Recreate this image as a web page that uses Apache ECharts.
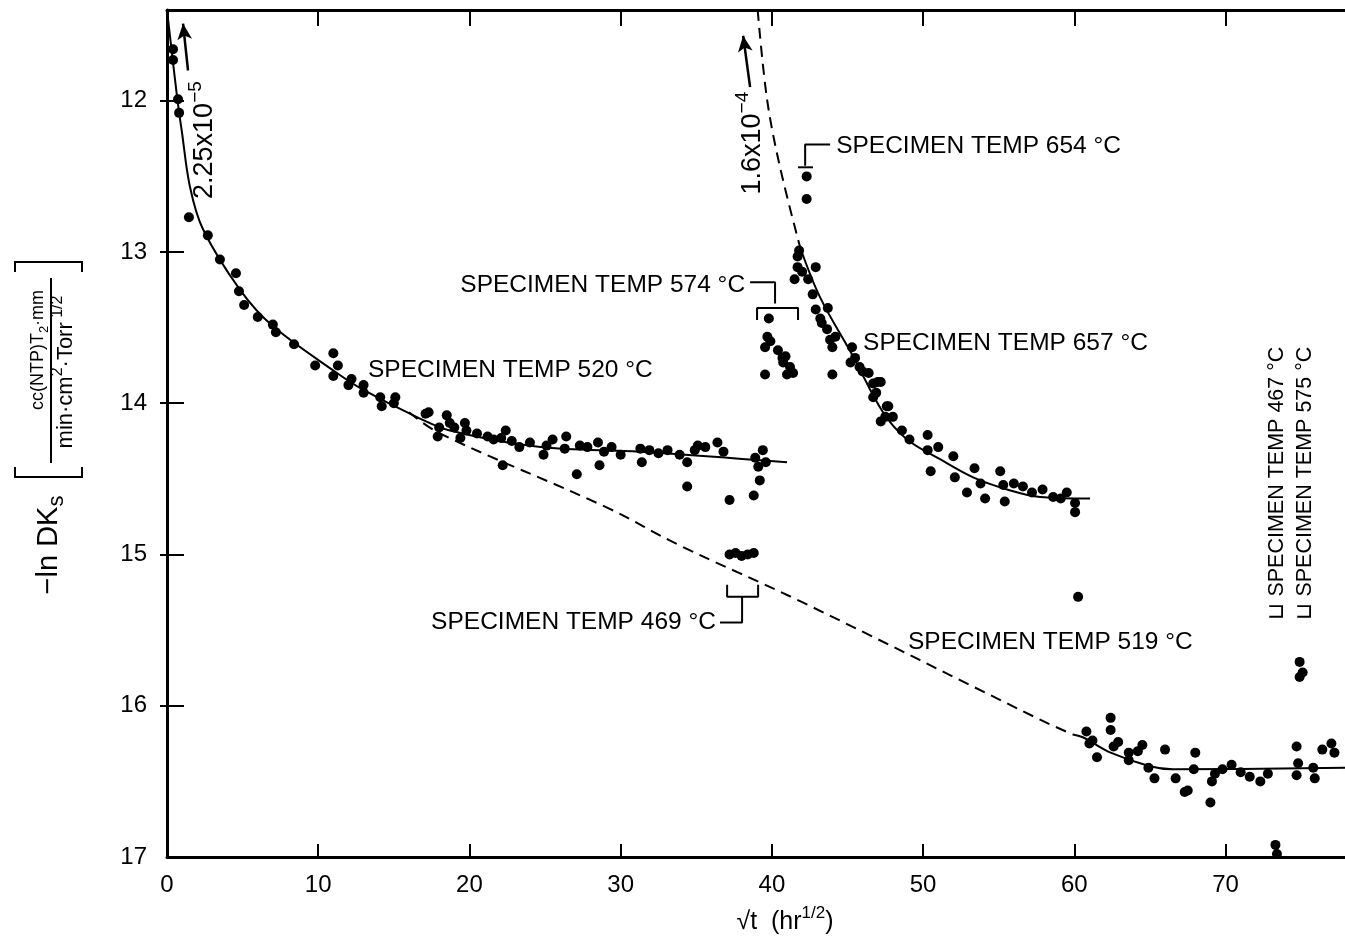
<!DOCTYPE html>
<html>
<head>
<meta charset="utf-8">
<script src="https://cdn.jsdelivr.net/npm/echarts@6/dist/echarts.min.js"></script>
<style>
  html, body { margin: 0; padding: 0; background: #fff; }
  #chart { width: 1345px; height: 947px; }
</style>
</head>
<body>
<div id="chart"></div>
<script>
// tick labels
const xTickValues = [0, 10, 20, 30, 40, 50, 60, 70];
const yTickValues = [12, 13, 14, 15, 16, 17];

// measured points [sqrt(t), -ln DKs]
const temp520 = [
  [0.4, 11.66], [0.4, 11.73], [0.73, 11.99], [0.8, 12.08], [1.45, 12.77], [2.7, 12.89], [3.5, 13.05],
  [4.56, 13.14], [4.76, 13.26], [5.1, 13.35], [6.0, 13.43], [7.0, 13.48], [7.2, 13.53], [8.4, 13.61],
  [9.8, 13.75], [11.0, 13.67], [11.3, 13.75], [11.0, 13.82], [12.2, 13.84], [12.0, 13.88], [13.0, 13.88],
  [13.0, 13.93], [14.1, 13.96], [14.2, 14.02], [15.1, 13.96], [15.0, 14.0], [17.3, 14.06], [17.1, 14.07],
  [18.0, 14.16], [17.9, 14.22], [18.5, 14.08], [18.7, 14.13], [19.0, 14.16], [19.7, 14.13], [19.8, 14.18],
  [19.4, 14.23], [20.5, 14.2], [21.2, 14.22], [21.6, 14.24], [22.1, 14.23], [22.4, 14.18], [22.8, 14.25],
  [22.2, 14.41], [23.3, 14.29], [24.0, 14.26], [25.1, 14.28], [24.9, 14.34], [25.5, 14.24], [26.4, 14.22],
  [26.3, 14.30], [27.1, 14.47], [27.3, 14.28], [27.8, 14.29], [28.5, 14.26], [28.6, 14.41], [28.9, 14.32],
  [29.4, 14.29], [30.0, 14.34], [31.3, 14.30], [31.4, 14.39], [31.9, 14.31], [32.5, 14.33], [33.1, 14.31],
  [33.9, 14.34], [34.4, 14.39], [34.4, 14.55], [34.9, 14.31], [35.1, 14.28], [35.6, 14.29], [36.4, 14.26],
  [36.8, 14.32], [37.2, 14.64], [38.8, 14.61], [39.2, 14.51], [39.4, 14.31], [38.9, 14.36], [39.1, 14.42],
  [39.6, 14.39]
];
const temp469 = [[37.2, 15.0], [37.6, 14.99], [38.0, 15.01], [38.4, 15.0], [38.8, 14.99]];
const temp574 = [
  [39.8, 13.44], [39.7, 13.56], [39.9, 13.59], [39.55, 13.63], [40.4, 13.65], [40.7, 13.70],
  [40.9, 13.69], [40.75, 13.73], [41.2, 13.76], [41.0, 13.81], [41.4, 13.80], [39.55, 13.81]
];
const temp654 = [[42.3, 12.50], [42.3, 12.65]];
const temp657 = [
  [41.8, 12.99], [41.7, 13.03], [41.7, 13.10], [42.0, 13.13], [42.9, 13.10], [41.5, 13.18], [42.4, 13.18],
  [42.7, 13.28], [42.9, 13.38], [43.7, 13.37], [43.2, 13.44], [43.3, 13.47], [43.65, 13.51], [43.85, 13.58],
  [44.2, 13.56], [44.0, 13.63], [44.0, 13.81], [45.3, 13.63], [45.5, 13.70], [45.8, 13.76], [46.4, 13.80],
  [46.7, 13.87], [47.2, 13.86], [46.9, 13.93], [47.6, 14.02], [47.5, 14.09], [48.0, 14.09], [45.2, 13.73],
  [46.0, 13.79], [47.0, 13.86], [46.7, 13.96], [47.7, 14.02], [47.2, 14.12], [48.6, 14.18], [49.1, 14.24],
  [50.3, 14.21], [51.0, 14.29], [50.5, 14.45], [50.3, 14.31], [52.0, 14.35], [52.1, 14.49], [52.9, 14.59],
  [53.4, 14.43], [53.8, 14.53], [54.1, 14.63], [55.1, 14.45], [55.3, 14.54], [55.4, 14.65], [56.0, 14.53],
  [56.6, 14.55], [57.2, 14.59], [57.9, 14.57], [58.6, 14.62], [59.5, 14.59], [60.05, 14.66], [60.05, 14.72],
  [59.1, 14.63], [60.25, 15.28]
];
const temp519 = [
  [60.8, 16.17], [61.0, 16.25], [61.5, 16.34], [61.2, 16.23], [62.4, 16.08], [62.4, 16.16], [62.9, 16.24],
  [62.6, 16.27], [63.6, 16.31], [64.2, 16.30], [64.5, 16.26], [63.6, 16.36], [64.9, 16.41], [65.3, 16.48],
  [66.0, 16.29], [66.7, 16.48], [67.3, 16.57], [67.5, 16.56], [68.0, 16.31], [67.9, 16.42], [69.0, 16.64],
  [69.1, 16.50], [69.3, 16.45], [69.8, 16.42], [70.4, 16.39], [71.0, 16.44], [71.6, 16.47], [72.3, 16.50],
  [72.8, 16.45], [74.7, 16.27], [74.8, 16.38], [74.7, 16.46], [75.8, 16.41], [75.9, 16.48], [76.4, 16.29],
  [77.0, 16.25], [77.2, 16.31]
];
const temp467_575 = [[74.9, 15.71], [75.1, 15.78], [74.9, 15.81], [73.3, 16.92], [73.4, 16.98]];

// fitted curves
const fit520 = [
  [0, 11.4], [0.66, 11.97], [0.99, 12.21], [1.52, 12.57], [2.38, 12.85], [4.83, 13.25], [7.0, 13.49],
  [11.24, 13.80], [12.96, 13.91], [16.5, 14.09], [18.7, 14.18], [24.7, 14.29], [31.3, 14.32], [41.0, 14.39]
];
const dash519 = [[16.0, 14.06], [18.05, 14.20], [29.1, 14.69], [33.9, 14.94], [41.9, 15.31], [57.7, 16.09], [59.9, 16.19]];
const fit519 = [[59.9, 16.19], [60.6, 16.21], [62.4, 16.31], [65.0, 16.40], [66.5, 16.42], [77.9, 16.41]];
const dash657 = [[39.06, 11.4], [39.68, 11.99], [40.54, 12.44], [41.87, 12.97]];
const fit657 = [
  [41.87, 12.97], [43.19, 13.30], [45.37, 13.69], [47.35, 14.06], [48.94, 14.24], [51.12, 14.37],
  [53.31, 14.49], [55.56, 14.57], [57.74, 14.62], [61.04, 14.63]
];

const fam = "'Liberation Sans', Arial, sans-serif";
const px = (size) => size + "px " + fam;

const chart = echarts.init(document.getElementById("chart"));

const dots = (data) => ({
  type: "scatter",
  data: data,
  symbol: "circle",
  symbolSize: 10,
  itemStyle: { color: "#000", opacity: 1 },
  silent: true,
  z: 3
});
const curve = (data, dashed) => ({
  type: "line",
  data: data,
  showSymbol: false,
  smooth: 0.35,
  lineStyle: { color: "#000", width: 2, type: dashed ? [11, 7] : "solid" },
  silent: true,
  z: 2
});
const edge = (data) => ({
  type: "line",
  data: data,
  showSymbol: false,
  lineStyle: { color: "#000", width: 2 },
  silent: true,
  z: 2
});

const axisBase = {
  axisLine: { show: true, onZero: false, lineStyle: { color: "#000", width: 3 } },
  splitLine: { show: false }
};

let option = {
  animation: false,
  backgroundColor: "#fff",
  grid: { left: 167, top: 10, right: 0, bottom: 90 },
  xAxis: [
    Object.assign({}, axisBase, {
      type: "value", min: 0, max: 77.9, position: "bottom",
      axisTick: { show: true, inside: true, length: 13, customValues: xTickValues.slice(1), lineStyle: { color: "#000", width: 2 } },
      axisLabel: { customValues: xTickValues, color: "#000", fontSize: 24, fontFamily: fam, margin: 16 }
    }),
    Object.assign({}, axisBase, {
      type: "value", min: 0, max: 77.9, position: "top",
      axisTick: { show: true, inside: true, length: 16, customValues: xTickValues.slice(1), lineStyle: { color: "#000", width: 2 } },
      axisLabel: { show: false }
    })
  ],
  yAxis: [
    Object.assign({}, axisBase, {
      type: "value", min: 11.4, max: 17, inverse: true, position: "left",
      axisTick: { show: true, inside: true, length: 17, customValues: yTickValues.slice(0, 5), lineStyle: { color: "#000", width: 2 } },
      axisLabel: { customValues: yTickValues, color: "#000", fontSize: 24, fontFamily: fam, margin: 20 }
    }),
    {
      type: "value", min: 11.4, max: 17, inverse: true, position: "right",
      axisLine: { show: false },
      axisTick: { show: true, inside: true, length: 7, customValues: yTickValues.slice(0, 5), lineStyle: { color: "#000", width: 2 } },
      axisLabel: { show: false },
      splitLine: { show: false }
    }
  ],
  series: [
    Object.assign(curve(fit520, false), {
      markLine: {
        silent: true,
        symbol: ["none", "arrow"],
        symbolSize: [11, 16],
        label: { show: false },
        lineStyle: { color: "#000", width: 2.5, type: "solid" },
        data: [
          [{ coord: [1.39, 11.80] }, { coord: [1.06, 11.49] }],
          [{ coord: [38.56, 11.91] }, { coord: [38.1, 11.57] }]
        ]
      }
    }),
    curve(dash519, true),
    curve(fit519, false),
    curve(dash657, true),
    curve(fit657, false),
    // annotation brackets
    edge([[43.85, 12.29], [42.2, 12.29], [42.2, 12.43]]),
    edge([[41.73, 12.44], [42.72, 12.44]]),
    edge([[38.56, 13.20], [40.21, 13.20], [40.21, 13.34]]),
    edge([[39.02, 13.45], [39.02, 13.37], [41.73, 13.37], [41.73, 13.45]]),
    edge([[37.04, 15.20], [37.04, 15.28], [39.09, 15.28], [39.09, 15.20]]),
    edge([[38.03, 15.28], [38.03, 15.45], [36.57, 15.45]]),
    dots(temp520),
    dots(temp469),
    dots(temp574),
    dots(temp654),
    dots(temp657),
    dots(temp519),
    dots(temp467_575)
  ]
};
chart.setOption(option);

// text notes placed in data coordinates
const notes = [
  { at: [13.29, 13.78], text: "SPECIMEN TEMP 520 °C", align: "left" },
  { at: [44.25, 12.30], text: "SPECIMEN TEMP 654 °C", align: "left" },
  { at: [38.23, 13.22], text: "SPECIMEN TEMP 574 °C", align: "right" },
  { at: [46.03, 13.60], text: "SPECIMEN TEMP 657 °C", align: "left" },
  { at: [36.3, 15.45], text: "SPECIMEN TEMP 469 °C", align: "right" },
  { at: [49.0, 15.58], text: "SPECIMEN TEMP 519 °C", align: "left" },
  { at: [73.4, 15.43], text: "⊔ SPECIMEN TEMP 467 °C", align: "left", rotate: true, size: 21.5 },
  { at: [75.26, 15.43], text: "⊔ SPECIMEN TEMP 575 °C", align: "left", rotate: true, size: 21.5 },
  { at: [2.51, 12.26], text: "{n|2.25x10}{p|−5}", align: "center", rotate: true },
  { at: [38.69, 12.28], text: "{n|1.6x10}{p|−4}", align: "center", rotate: true }
];

const supRich = {
  n: { font: px(27), lineHeight: 38 },
  p: { font: px(19), verticalAlign: "top", lineHeight: 38 }
};

let graphics = notes.map((n) => {
  const p = chart.convertToPixel({ gridIndex: 0 }, n.at);
  return {
    type: "text",
    x: p[0], y: p[1],
    rotation: n.rotate ? Math.PI / 2 : 0,
    silent: true,
    style: {
      text: n.text,
      fill: "#000",
      font: px(n.size || 24.5),
      align: n.align, textAlign: n.align,
      verticalAlign: "middle", textVerticalAlign: "middle",
      rich: supRich
    }
  };
});

// y axis title
graphics.push(
  {
    type: "text", x: 49, y: 545, rotation: Math.PI / 2, silent: true,
    style: {
      text: "{a|−ln DK}{s|s}", fill: "#000", align: "center", verticalAlign: "middle",
      textAlign: "center", textVerticalAlign: "middle",
      rich: {
        a: { font: px(29), lineHeight: 38 },
        s: { font: px(22), lineHeight: 38, verticalAlign: "bottom" }
      }
    }
  },
  {
    type: "text", x: 38, y: 350, rotation: Math.PI / 2, silent: true,
    style: {
      text: "{a|cc(NTP)T}{b|2}{a|·mm}", fill: "#000", align: "center", verticalAlign: "middle",
      textAlign: "center", textVerticalAlign: "middle",
      rich: {
        a: { font: px(18), lineHeight: 26 },
        b: { font: px(13), lineHeight: 26, verticalAlign: "bottom" }
      }
    }
  },
  {
    type: "text", x: 66, y: 372, rotation: Math.PI / 2, silent: true,
    style: {
      text: "{a|min·cm}{p|2}{a|·Torr}{p| 1/2}", fill: "#000", align: "center", verticalAlign: "middle",
      textAlign: "center", textVerticalAlign: "middle",
      rich: {
        a: { font: px(22), lineHeight: 32 },
        p: { font: px(16), lineHeight: 32, verticalAlign: "top" }
      }
    }
  },
  { type: "polyline", silent: true, shape: { points: [[15, 467], [15, 477], [82, 477], [82, 467]] }, style: { stroke: "#000", lineWidth: 2, fill: null } },
  { type: "polyline", silent: true, shape: { points: [[15, 272], [15, 262], [82, 262], [82, 272]] }, style: { stroke: "#000", lineWidth: 2, fill: null } },
  { type: "line", silent: true, shape: { x1: 51, y1: 278, x2: 51, y2: 463 }, style: { stroke: "#000", lineWidth: 2 } },
  // x axis title
  {
    type: "text", x: 785, y: 922, silent: true,
    style: {
      text: "{a|√t  (hr}{p|1/2}{a|)}", fill: "#000", align: "center", verticalAlign: "middle",
      textAlign: "center", textVerticalAlign: "middle",
      rich: {
        a: { font: px(25), lineHeight: 34 },
        p: { font: px(17), lineHeight: 34, verticalAlign: "top" }
      }
    }
  }
);

chart.setOption({ graphic: graphics });

window.addEventListener("resize", () => {
  chart.resize();
});
</script>
</body>
</html>
